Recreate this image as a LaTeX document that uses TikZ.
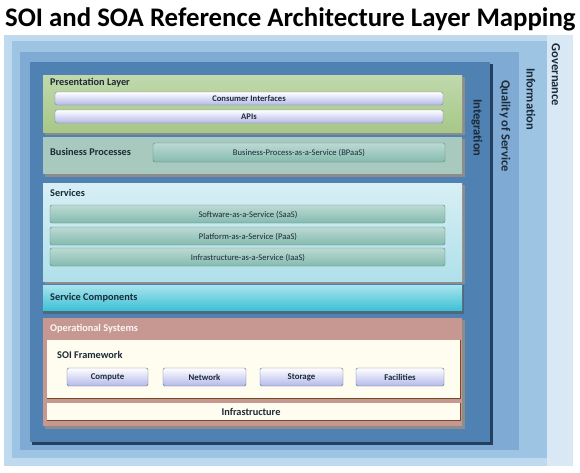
\documentclass[tikz,border=0pt]{standalone}
\usepackage{fontspec}
\setmainfont{Carlito}
\definecolor{govblue}{HTML}{BFD9EE}
\definecolor{infoblue}{HTML}{9EC4E4}
\definecolor{qosblue}{HTML}{7EAAD3}
\definecolor{intblue}{HTML}{4F81B2}
\definecolor{darkedge}{HTML}{23415F}
\definecolor{presgreen}{HTML}{A6C888}
\definecolor{bpgray}{HTML}{A8C9BE}
\definecolor{svcblue}{HTML}{B0E0EA}
\definecolor{barteal}{HTML}{85BBAF}
\definecolor{compcyan}{HTML}{3FC2D6}
\definecolor{opsrose}{HTML}{C79891}
\definecolor{cream}{HTML}{FFFDF0}
\definecolor{lavender}{HTML}{B4B8EA}
\definecolor{inktext}{HTML}{1C2A38}
\tikzset{
  lbl/.style={anchor=west, inner sep=0pt, text=inktext,
    font=\bfseries\fontsize{10.3}{11}\selectfont},
  sidelbl/.style={rotate=-90, inner sep=0pt, text=inktext,
    font=\bfseries\fontsize{12.5}{13}\selectfont},
  bartxt/.style={inner sep=0pt, text=inktext, font=\fontsize{8.6}{9}\selectfont},
  lavbar/.style={rounded corners=2pt, top color=white, bottom color=lavender,
    draw=lavender!70!black},
  tealbar/.style={rounded corners=2pt, top color=barteal!55!white,
    bottom color=barteal, draw=barteal!70!black},
  button/.style={rounded corners=1.5pt, top color=white, bottom color=lavender,
    draw=lavender!60!black, text=inktext,
    font=\bfseries\fontsize{8.8}{9}\selectfont}
}
\begin{document}
\begin{tikzpicture}[x=1pt,y=-1pt]
  \useasboundingbox[fill=white] (0,0) rectangle (580,472);
  \node[anchor=base west, inner sep=0pt, font=\bfseries\fontsize{26.8}{28}\selectfont]
    (title) at (5,26) {SOI and SOA Reference Architecture Layer Mapping};
  % outer bands
  \fill[govblue] (4,35) rectangle (573,466);
  \fill[govblue!60!white] (547,35) rectangle (573,466);
  \fill[infoblue] (12,41) rectangle (547,458);
  \fill[qosblue] (20,52) rectangle (519,450);
  \fill[darkedge] (32,64) rectangle (493,445);
  \fill[intblue] (30,62) rectangle (490,442);
  \node[sidelbl] (gov) at (556,75) {Governance};
  \node[sidelbl] (info) at (531,99) {Information};
  \node[sidelbl] (qos) at (505,126) {Quality of Service};
  \node[sidelbl] (integ) at (477,128) {Integration};
  % presentation layer
  \fill[black!45] (45,77) rectangle (465,135);
  \fill[top color=presgreen!70!white, bottom color=presgreen] (43,75) rectangle (462,132);
  \node[lbl] (pres) at (50,83) {Presentation Layer};
  \draw[lavbar] (55,92) rectangle (443,105);
  \node[bartxt] (ci) at (249,98.5) {\bfseries Consumer Interfaces};
  \draw[lavbar] (55,110) rectangle (443,123);
  \node[bartxt] (apis) at (249,116.5) {\bfseries APIs};
  % business processes
  \fill[black!45] (45,139) rectangle (465,177);
  \fill[bpgray] (43,137) rectangle (462,174);
  \node[lbl] (bp) at (50,152) {Business Processes};
  \draw[tealbar] (153,143) rectangle (445,162);
  \node[bartxt] (bpaas) at (299,152.5) {Business-Process-as-a-Service (BPaaS)};
  % services
  \fill[black!45] (45,185) rectangle (465,284);
  \fill[top color=svcblue!50!white, bottom color=svcblue] (43,183) rectangle (462,281);
  \node[lbl] (svc) at (50,193) {Services};
  \foreach \yy/\nm/\txt in {205/saas/Software-as-a-Service (SaaS),
                            227/paas/Platform-as-a-Service (PaaS),
                            248/iaas/Infrastructure-as-a-Service (IaaS)}
  {
    \draw[tealbar] (50,\yy) rectangle (445,\yy+18);
    \node[bartxt] (\nm) at (248,\yy+9.5) {\txt};
  }
  % service components
  \fill[darkedge!80] (43,285) rectangle (464,314);
  \fill[top color=compcyan!45!white, bottom color=compcyan] (43,285) rectangle (462,310);
  \node[lbl] (comp) at (50,298) {Service Components};
  % operational systems
  \fill[black!45] (45,320) rectangle (465,429);
  \fill[opsrose] (43,318) rectangle (462,426);
  \node[lbl, text=white!92!opsrose] (ops) at (50,329) {Operational Systems};
  \fill[cream] (47,340) rectangle (460,398);
  \draw[brown!60!black, line width=0.8pt] (47,398) -- (460,398) -- (460,340);
  \node[lbl] (soi) at (57,355) {SOI Framework};
  \foreach \xa/\xb/\nm/\txt in {67/148/cpu/Compute, 163/246/net/Network,
                                260/343/stor/Storage, 356/444/fac/Facilities}
    \node[button, minimum width=\xb-\xa, minimum height=18, inner sep=0pt]
      (\nm) at ({(\xa+\xb)/2},377) {\txt};
  \fill[cream] (47,403) rectangle (460,420);
  \draw[brown!60!black, line width=0.8pt] (47,420) -- (460,420) -- (460,403);
  \node[lbl, anchor=center] (infra) at (251,412) {Infrastructure};
\end{tikzpicture}
\end{document}
